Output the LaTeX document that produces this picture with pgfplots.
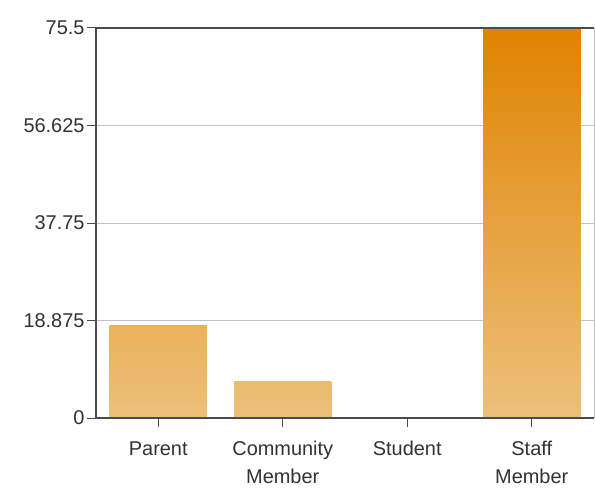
\documentclass[border=0pt]{standalone}
\usepackage{pgfplots}
\pgfplotsset{compat=1.18}
\usepackage{fontspec}
\setmainfont{Liberation Sans}
\definecolor{barlight}{RGB}{236,192,122}
\definecolor{bardark}{RGB}{224,131,0}
\definecolor{axisgray}{RGB}{75,75,75}
\definecolor{gridgray}{RGB}{195,195,195}
\definecolor{labelgray}{RGB}{50,50,50}
\begin{document}
\begin{tikzpicture}
\begin{axis}[
  scale only axis, width=498bp, height=390bp,
  xmin=-0.5, xmax=3.5, ymin=0, ymax=75.5,
  xtick={0,1,2,3},
  xticklabels={Parent, Community\\Member, Student, Staff\\Member},
  xticklabel style={align=center, font=\fontsize{20}{28}\selectfont, text=labelgray, yshift=-11bp},
  ytick={0,18.875,37.75,56.625,75.5},
  yticklabels={0,18.875,37.75,56.625,75.5},
  yticklabel style={font=\fontsize{20}{22}\selectfont, text=labelgray, xshift=1bp},
  /pgf/number format/assume math mode=true,
  ymajorgrids, grid style={gridgray, line width=0.8pt},
  axis line style={draw=none},
  tick style={axisgray, line width=1pt},
  major tick length=9bp, tick align=outside,
  xtick pos=bottom, ytick pos=left,
  clip=false,
]
\addplot[ybar, bar width=0.78, bar shift=0pt, draw=none, bottom color=barlight, top color=bardark!24!barlight] coordinates {(0,18)};
\addplot[ybar, bar width=0.78, bar shift=0pt, draw=none, bottom color=barlight, top color=bardark!9!barlight] coordinates {(1,7)};
\addplot[ybar, bar width=0.78, bar shift=0pt, draw=none, fill=none] coordinates {(2,0)};
\addplot[ybar, bar width=0.78, bar shift=0pt, draw=none, bottom color=barlight, top color=bardark] coordinates {(3,75.5)};
\draw[gridgray, line width=1pt] (rel axis cs:1,0) -- (rel axis cs:1,1);
\draw[axisgray, line width=1.2pt] (rel axis cs:0,1) -- (rel axis cs:1,1);
\draw[axisgray, line width=1.2pt] (rel axis cs:0,0) -- (rel axis cs:0,1);
\draw[axisgray, line width=1.2pt] (rel axis cs:0,0) -- (rel axis cs:1,0);
\end{axis}
\pgfresetboundingbox
\path[use as bounding box] ([xshift=-96bp,yshift=-83bp]current axis.south west) rectangle ([xshift=1bp,yshift=28bp]current axis.north east);
\end{tikzpicture}
\end{document}
